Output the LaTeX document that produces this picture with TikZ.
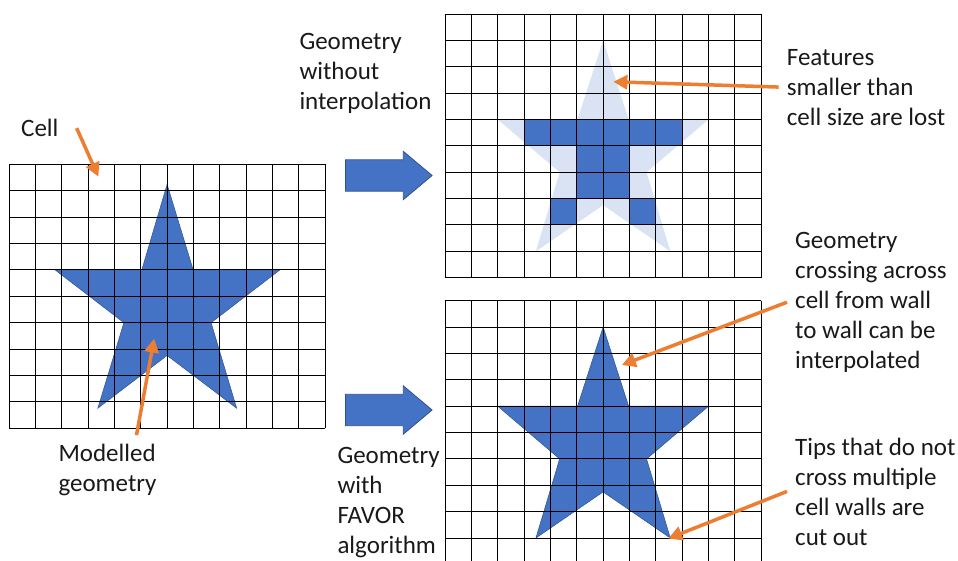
\documentclass[tikz,border=0pt]{standalone}
\usepackage{fontspec}
\setmainfont{Carlito}
\usetikzlibrary{arrows.meta, shapes.arrows}

\definecolor{starblue}{HTML}{4472C4}
\definecolor{starline}{HTML}{2F528F}
\definecolor{starfaint}{HTML}{DAE3F3}
\definecolor{callorange}{HTML}{ED7D31}

\begin{document}
\begin{tikzpicture}[x=1pt, y=-1pt,
  note/.style={align=left, anchor=base west, inner sep=0pt, text=black!90, font=\fontsize{25}{30}\selectfont},
  cellgrid/.style={line width=1pt, black},
  callout/.style={line width=3.5pt, callorange, -{Triangle[length=14pt,width=14pt]}},
  blockarrow/.style={single arrow, fill=starblue, draw=starline, line width=0.8pt, minimum height=86.7pt, inner xsep=0pt, inner ysep=15.3pt, single arrow head extend=8.5pt, single arrow tip angle=80, anchor=tail}]
\useasboundingbox (0,0) rectangle (958,560);
\clip (0,0) rectangle (958,560);

% modelled geometry
\begin{scope}[shift={(9,164.3)}, x=26.35pt, y=-26.4pt]
\filldraw[fill=starblue, draw=starline, line width=0.5pt] (6,0.76) -- (6.99,4) -- (10.28,4) -- (7.67,6) -- (8.64,9.24) -- (6,7.24) -- (3.37,9.24) -- (4.36,6) -- (1.75,4) -- (5.04,4) -- cycle;
\foreach \i in {0,...,12} \draw[cellgrid] (\i,0) -- (\i,10);
\foreach \j in {0,...,10} \draw[cellgrid] (0,\j) -- (12,\j);
\coordinate (celltip) at (3.39,0.47);
\coordinate (startip) at (5.51,6.6);
\end{scope}

% without interpolation
\begin{scope}[shift={(445,14)}, x=26.35pt, y=-26.37pt]
\fill[starfaint] (6,1) -- (6.97,4) -- (10,4) -- (7.65,6) -- (8.55,9) -- (6,7.25) -- (3.45,9) -- (4.35,6) -- (2,4) -- (5.03,4) -- cycle;
\fill[starblue] (3,4) rectangle (9,5) (5,5) rectangle (7,7) (4,7) rectangle (5,8) (7,7) rectangle (8,8);
\foreach \i in {0,...,12} \draw[cellgrid] (\i,0) -- (\i,10);
\foreach \j in {0,...,10} \draw[cellgrid] (0,\j) -- (12,\j);
\coordinate (losttip) at (6.39,2.57);
\end{scope}

% FAVOR
\begin{scope}[shift={(445,300.7)}, x=26.35pt, y=-26.37pt]
\filldraw[fill=starblue, draw=starline, line width=0.5pt] (6,1) -- (6.97,4) -- (10,4) -- (7.65,6) -- (8.55,9) -- (6,7.25) -- (3.45,9) -- (4.35,6) -- (2,4) -- (5.03,4) -- cycle;
\foreach \i in {0,...,12} \draw[cellgrid] (\i,0) -- (\i,10);
\foreach \j in {0,...,10} \draw[cellgrid] (0,\j) -- (12,\j);
\coordinate (walltip) at (6.71,2.44);
\coordinate (tiptip) at (8.47,9.02);
\end{scope}

\node[blockarrow] (arrowtop) at (345,175.5) {};
\node[blockarrow] (arrowbot) at (345,410) {};

% base anchor sits on the last line
\node[note] (cell) at (21,136.7) {Cell};
\node[note] (model) at (58.3,491.7) {Modelled\\geometry};
\node[note] (nointerp) at (299.3,109.3) {Geometry\\without\\interpolation};
\node[note] (favor) at (337.3,553.3) {Geometry\\with\\FAVOR\\algorithm};
\node[note] (lost) at (786.7,125) {Features\\smaller than\\cell size are lost};
\node[note] (wall) at (795,368.3) {Geometry\\crossing across\\cell from wall\\to wall can be\\interpolated};
\node[note] (tips) at (795,545) {Tips that do not\\cross multiple\\cell walls are\\cut out};

\draw[callout] ([xshift=18pt]cell.east) -- (celltip);
\draw[callout] ([xshift=29pt,yshift=9pt]model.north) -- (startip);
\draw[callout] ([xshift=-8pt]lost.west) -- (losttip);
\draw[callout] ([xshift=-8pt]wall.west) -- (walltip);
\draw[callout] ([xshift=-8pt]tips.west) -- (tiptip);
\end{tikzpicture}
\end{document}
